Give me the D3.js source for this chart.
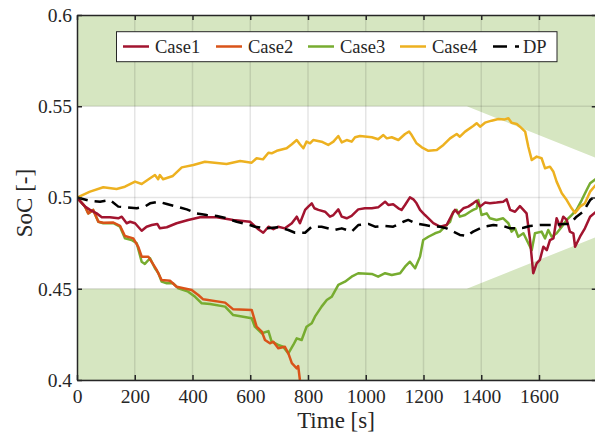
<!DOCTYPE html>
<html>
<head>
<meta charset="utf-8">
<script src="https://cdn.jsdelivr.net/npm/d3@7"></script>
<style>
  html, body { margin: 0; padding: 0; background: #fff; overflow: hidden; }
  svg { display: block; }
  svg text { font-family: "Liberation Serif", "Times New Roman", Tinos, Times, "DejaVu Serif", "Noto Serif", serif !important; }
</style>
</head>
<body>
<svg id="chart" width="595" height="436"></svg>
<script>
// ---------------- data ----------------
const seriesNames = ["Case1", "Case2", "Case3", "Case4", "DP"];

const case1 = [[0,0.5],[28,0.495],[45,0.4932],[68,0.4913],[86,0.4892],[114,0.4892],[143,0.4886],[155,0.4895],[172,0.4859],[184,0.4867],[201,0.4859],[224,0.4818],[241,0.484],[259,0.4849],[278,0.4855],[287,0.4831],[311,0.4837],[345,0.4859],[385,0.4877],[426,0.4892],[484,0.4892],[541,0.4877],[599,0.4867],[628,0.4826],[645,0.4807],[663,0.484],[680,0.4826],[697,0.484],[720,0.4831],[744,0.4859],[761,0.4895],[772,0.4859],[790,0.4932],[801,0.495],[813,0.4968],[822,0.4941],[836,0.4932],[859,0.4922],[876,0.4895],[888,0.4904],[905,0.4935],[917,0.4895],[934,0.4886],[951,0.4899],[974,0.4935],[997,0.4941],[1021,0.4941],[1043,0.4946],[1067,0.4977],[1078,0.4959],[1095,0.4963],[1113,0.4941],[1124,0.4932],[1136,0.4959],[1153,0.5001],[1165,0.499],[1176,0.4968],[1188,0.4932],[1205,0.4904],[1211,0.4895],[1234,0.4859],[1257,0.484],[1280,0.4849],[1298,0.4904],[1309,0.4932],[1320,0.4913],[1338,0.4941],[1355,0.495],[1372,0.4968],[1384,0.4982],[1396,0.495],[1413,0.4972],[1430,0.4968],[1453,0.4972],[1476,0.4977],[1488,0.499],[1500,0.4932],[1517,0.4922],[1534,0.4953],[1546,0.4932],[1557,0.4913],[1569,0.4767],[1580,0.4585],[1592,0.4639],[1603,0.4658],[1615,0.473],[1627,0.4712],[1638,0.4767],[1650,0.4776],[1661,0.4886],[1673,0.484],[1684,0.4895],[1696,0.4877],[1707,0.4813],[1719,0.4804],[1725,0.473],[1742,0.4785],[1759,0.4831],[1777,0.4895],[1800,0.4925]];

const case2 = [[0,0.5],[28,0.495],[39,0.4913],[56,0.4932],[74,0.4867],[91,0.4862],[126,0.4863],[149,0.4845],[166,0.4789],[195,0.4776],[212,0.473],[224,0.4676],[247,0.4676],[276,0.4603],[293,0.4548],[322,0.4544],[345,0.4511],[397,0.4493],[420,0.4466],[437,0.4442],[513,0.4424],[541,0.4387],[605,0.4384],[622,0.4292],[640,0.4265],[651,0.4219],[668,0.4201],[680,0.421],[697,0.4174],[720,0.4182],[732,0.4146],[744,0.4092],[761,0.4064],[766,0.4077],[772,0.400],[790,0.390]];

const case3 = [[0,0.5],[28,0.495],[39,0.4913],[56,0.4932],[74,0.4867],[91,0.4859],[126,0.4859],[149,0.484],[166,0.4776],[189,0.4767],[207,0.4749],[224,0.4648],[235,0.4636],[253,0.4667],[270,0.4612],[282,0.4585],[293,0.4539],[311,0.453],[333,0.453],[351,0.4502],[385,0.4484],[409,0.4456],[432,0.442],[461,0.4416],[513,0.4402],[541,0.4356],[605,0.4338],[616,0.4292],[640,0.4256],[663,0.4268],[674,0.421],[697,0.4192],[714,0.4182],[732,0.4146],[749,0.4192],[761,0.4228],[778,0.4219],[795,0.4292],[813,0.4311],[824,0.4347],[847,0.4402],[865,0.4438],[882,0.4456],[905,0.4521],[928,0.4539],[951,0.4566],[974,0.4585],[1021,0.4581],[1043,0.4566],[1067,0.4585],[1090,0.4575],[1119,0.4585],[1136,0.4621],[1153,0.4648],[1171,0.4612],[1188,0.4676],[1199,0.4767],[1217,0.4785],[1240,0.4804],[1257,0.4813],[1274,0.484],[1292,0.4867],[1303,0.4922],[1315,0.4932],[1326,0.4895],[1344,0.4904],[1361,0.4922],[1372,0.4932],[1384,0.4941],[1390,0.4986],[1401,0.4904],[1419,0.4913],[1430,0.4886],[1453,0.4877],[1476,0.4886],[1494,0.4859],[1505,0.4813],[1517,0.4831],[1528,0.4785],[1546,0.4804],[1563,0.4749],[1575,0.4712],[1586,0.4804],[1609,0.4813],[1621,0.4776],[1632,0.4822],[1644,0.4785],[1661,0.4804],[1679,0.484],[1696,0.4877],[1713,0.4904],[1730,0.4932],[1748,0.4986],[1765,0.5041],[1777,0.5078],[1800,0.5105]];

const case4 = [[0,0.5],[45,0.5032],[91,0.5056],[137,0.5047],[166,0.5059],[201,0.5087],[224,0.5074],[253,0.5105],[270,0.5123],[281,0.51],[287,0.5123],[298,0.51],[332,0.5118],[363,0.5165],[403,0.5178],[443,0.5196],[518,0.5184],[565,0.52],[605,0.5191],[622,0.5215],[644,0.5209],[663,0.5245],[674,0.5242],[692,0.5256],[726,0.527],[744,0.5292],[761,0.5315],[772,0.5292],[784,0.527],[795,0.5306],[807,0.5297],[818,0.5315],[847,0.5306],[870,0.5288],[888,0.5306],[905,0.5337],[917,0.5302],[934,0.5315],[951,0.5306],[963,0.533],[980,0.5337],[1021,0.533],[1043,0.5319],[1061,0.5342],[1073,0.5324],[1090,0.533],[1113,0.5315],[1136,0.5348],[1150,0.5361],[1159,0.5342],[1176,0.5297],[1194,0.5275],[1217,0.5256],[1246,0.526],[1269,0.5288],[1292,0.5324],[1315,0.5348],[1326,0.5333],[1344,0.5361],[1372,0.5392],[1384,0.5407],[1396,0.5388],[1413,0.541],[1436,0.5421],[1459,0.543],[1482,0.5428],[1494,0.5434],[1505,0.541],[1523,0.5403],[1534,0.5388],[1552,0.5361],[1563,0.5278],[1575,0.5205],[1592,0.5224],[1609,0.5215],[1621,0.516],[1638,0.5169],[1650,0.5141],[1661,0.5087],[1679,0.5023],[1696,0.4986],[1713,0.4941],[1725,0.4915],[1742,0.495],[1759,0.4968],[1777,0.5032],[1800,0.5075]];

const dp = [[0,0.5],[45,0.4982],[80,0.4977],[114,0.4986],[143,0.495],[172,0.4946],[207,0.4941],[235,0.495],[253,0.4968],[282,0.4977],[311,0.4964],[345,0.495],[380,0.4935],[415,0.4913],[449,0.4904],[484,0.4899],[518,0.4886],[553,0.4867],[599,0.4849],[616,0.484],[651,0.4831],[697,0.4837],[732,0.4822],[755,0.4807],[790,0.4807],[813,0.484],[847,0.484],[893,0.4822],[917,0.4831],[951,0.4813],[974,0.4849],[1009,0.4855],[1032,0.484],[1067,0.4844],[1095,0.484],[1130,0.4867],[1147,0.4877],[1171,0.4859],[1205,0.4849],[1223,0.4844],[1257,0.484],[1280,0.4831],[1303,0.4813],[1326,0.4795],[1350,0.4789],[1372,0.4813],[1407,0.484],[1442,0.4849],[1476,0.4844],[1500,0.4831],[1523,0.4831],[1546,0.4834],[1569,0.4844],[1603,0.4849],[1650,0.4849],[1684,0.4855],[1707,0.4855],[1730,0.4895],[1753,0.4922],[1777,0.4986],[1800,0.5015]];

// SoC constraint band (upper / lower limits)
const upperBound = [[0,0.55],[1350,0.55],[1800,0.5215]];
const lowerBound = [[0,0.45],[1350,0.45],[1800,0.4785]];

const xTicks = [0,200,400,600,800,1000,1200,1400,1600,1800];
const xTickLabels = ["0","200","400","600","800","1000","1200","1400","1600",""];
const yTicks = [0.4,0.45,0.5,0.55,0.6];
const yTickLabels = ["0.4","0.45","0.5","0.55","0.6"];

// ---------------- chart ----------------
const colors = { Case1: "#A2142F", Case2: "#D95319", Case3: "#77AC30", Case4: "#EDB120", DP: "#000000" };
const seriesData = { Case1: case1, Case2: case2, Case3: case3, Case4: case4, DP: dp };
const serifFont = '"Liberation Serif", "Times New Roman", Tinos, Times, "DejaVu Serif", "Noto Serif", serif';

const svg = d3.select("#chart");
const x = d3.scaleLinear().domain([0, 1800]).range([77, 596.75]);
const y = d3.scaleLinear().domain([0.4, 0.6]).range([380, 15]);
const axisColor = "#262626";

svg.append("defs").append("clipPath").attr("id", "clip")
  .append("rect").attr("x", x(0)).attr("y", y(0.6))
  .attr("width", x(1800) - x(0)).attr("height", y(0.4) - y(0.6));

const plot = svg.append("g").attr("clip-path", "url(#clip)");

// constraint regions
const fillColor = "#d6e6c1";
plot.append("path").datum(upperBound)
  .attr("d", d3.area().x(d => x(d[0])).y0(y(0.6)).y1(d => y(d[1])))
  .attr("fill", fillColor);
plot.append("path").datum(lowerBound)
  .attr("d", d3.area().x(d => x(d[0])).y0(y(0.4)).y1(d => y(d[1])))
  .attr("fill", fillColor);

// grid
const gridColor = "rgba(0,0,0,0.10)";
plot.selectAll(".vgrid").data(xTicks).enter().append("line")
  .attr("x1", d => x(d)).attr("x2", d => x(d))
  .attr("y1", y(0.6)).attr("y2", y(0.4))
  .attr("stroke", gridColor).attr("stroke-width", 1.5);
plot.selectAll(".hgrid").data(yTicks).enter().append("line")
  .attr("x1", x(0)).attr("x2", x(1800))
  .attr("y1", d => y(d)).attr("y2", d => y(d))
  .attr("stroke", gridColor).attr("stroke-width", 1.5);

// lines
const line = d3.line().x(d => x(d[0])).y(d => y(d[1]));
const drawOrder = ["Case3", "Case2", "Case4", "Case1", "DP"];
drawOrder.forEach(name => {
  plot.append("path").datum(seriesData[name])
    .attr("d", line)
    .attr("fill", "none")
    .attr("stroke", colors[name])
    .attr("stroke-width", 2.5)
    .attr("stroke-linejoin", "round")
    .attr("stroke-dasharray", name === "DP" ? "11,7" : null);
});

// axes
function styleAxis(g) {
  g.attr("font-family", serifFont);
  g.selectAll("path.domain").attr("stroke", axisColor).attr("stroke-width", 1.5);
  g.selectAll(".tick line").attr("stroke", axisColor).attr("stroke-width", 1.5);
  g.selectAll(".tick text").attr("fill", axisColor)
    .attr("font-family", serifFont)
    .style("font-size", "19.5px");
}
const gx = svg.append("g").attr("transform", `translate(0,${y(0.4)})`)
  .call(d3.axisBottom(x).tickValues(xTicks).tickSizeInner(-5).tickSizeOuter(0).tickPadding(9)
    .tickFormat((d, i) => xTickLabels[i]));
styleAxis(gx);
const gxt = svg.append("g").attr("transform", `translate(0,${y(0.6)})`)
  .call(d3.axisTop(x).tickValues(xTicks).tickSizeInner(-5).tickSizeOuter(0).tickFormat(""));
styleAxis(gxt);
const gy = svg.append("g").attr("transform", `translate(${x(0)},0)`)
  .call(d3.axisLeft(y).tickValues(yTicks).tickSizeInner(-5).tickSizeOuter(0).tickPadding(5)
    .tickFormat((d, i) => yTickLabels[i]));
styleAxis(gy);
const gyr = svg.append("g").attr("transform", `translate(${x(1800)},0)`)
  .call(d3.axisRight(y).tickValues(yTicks).tickSizeInner(-5).tickSizeOuter(0).tickFormat(""));
styleAxis(gyr);

// axis labels
svg.append("text").attr("x", 336).attr("y", 428)
  .attr("text-anchor", "middle").attr("fill", axisColor).attr("font-family", serifFont)
  .style("font-size", "23px").text("Time [s]");
svg.append("text").attr("transform", "translate(31.5,203) rotate(-90)")
  .attr("text-anchor", "middle").attr("fill", axisColor).attr("font-family", serifFont)
  .style("font-size", "23px").text("SoC [-]");

// legend
const legend = svg.append("g");
legend.append("rect").attr("x", 116.5).attr("y", 31.7).attr("width", 440.5).attr("height", 30)
  .attr("fill", "#fff").attr("stroke", axisColor).attr("stroke-width", 1);
const legendLineX = [123, 216, 308, 400, 493];
seriesNames.forEach((name, i) => {
  legend.append("line")
    .attr("x1", legendLineX[i]).attr("x2", legendLineX[i] + 26)
    .attr("y1", 46.5).attr("y2", 46.5)
    .attr("stroke", colors[name]).attr("stroke-width", 2.5)
    .attr("stroke-dasharray", name === "DP" ? "14,8" : null);
  legend.append("text")
    .attr("x", legendLineX[i] + 32 - (name === "DP" ? 2 : 0)).attr("y", 52.5)
    .attr("fill", axisColor).attr("font-family", serifFont)
    .style("font-size", "18.5px").text(name);
});
</script>
</body>
</html>
